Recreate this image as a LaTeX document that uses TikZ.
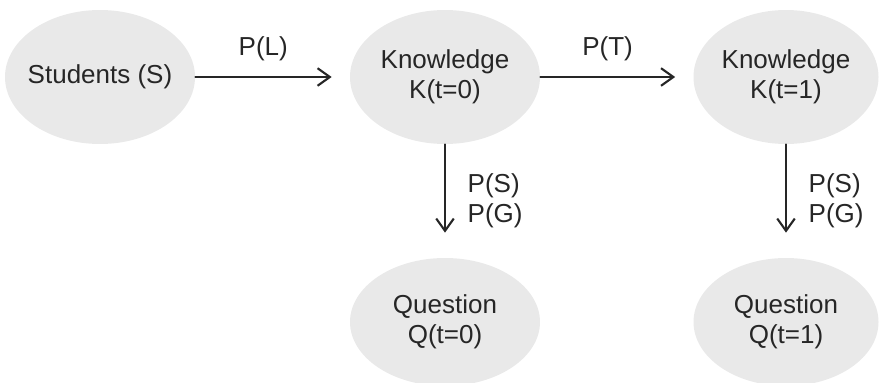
\documentclass[tikz,border=0pt]{standalone}
\usepackage{fontspec}
\setmainfont{Liberation Sans}
\usetikzlibrary{arrows.meta,shapes.geometric}
\definecolor{blob}{HTML}{E9E9E9}
\definecolor{ink}{HTML}{262626}
\begin{document}
\begin{tikzpicture}[>={Straight Barb[length=7pt,width=10pt]},line join=round,line cap=round,
	font=\fontsize{14.8}{17}\selectfont,text=ink,
	state/.style={ellipse,fill=blob,minimum width=3.8cm,minimum height=2.68cm,align=center,inner sep=0pt},
	link/.style={->,draw=ink,line width=1.2pt}]
			\useasboundingbox (0,0) rectangle (17.58,7.64);
			\node[state,inner xsep=-0.4cm] (S) at (2,6.1) {Students (S)};
			\node[state] (K0) at (8.9,6.1) {Knowledge\\K(t=0)};
			\node[state,minimum width=3.7cm] (K1) at (15.72,6.1) {Knowledge\\K(t=1)};
			\node[state,minimum height=2.56cm] (Q0) at (8.9,1.2) {Question\\Q(t=0)};
			\node[state,minimum width=3.7cm,minimum height=2.56cm] (Q1) at (15.72,1.2) {Question\\Q(t=1)};
			\draw[link,shorten >=0.36cm] (S) -- (K0) node[pos=0.44,above=5pt]{P(L)};
			\draw[link,shorten >=0.36cm] (K0) -- (K1) node[pos=0.44,above=5pt]{P(T)};
			\foreach \k/\q in {K0/Q0,K1/Q1}{
				\draw[link,shorten >=0.5cm] (\k) -- (\q) node[midway,right=9pt,align=left]{P(S)\\P(G)};
			}
		\end{tikzpicture}
\end{document}
